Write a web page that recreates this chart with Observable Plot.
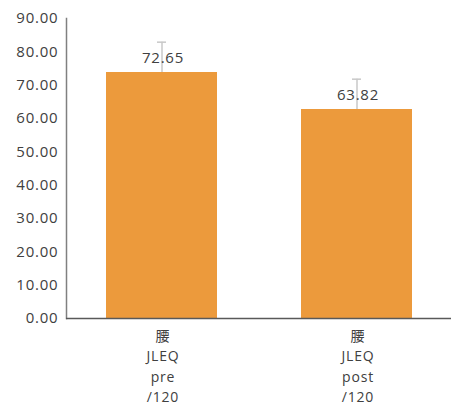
<!DOCTYPE html>
<html>
<head>
<meta charset="utf-8">
<script src="https://cdn.jsdelivr.net/npm/d3@7"></script>
<script src="https://cdn.jsdelivr.net/npm/@observablehq/plot@0.6"></script>
<style>
  html, body { margin: 0; padding: 0; background: #fff; }
  #chart svg { display: block; }
  #chart svg text { letter-spacing: 0.8px; }
</style>
</head>
<body>
<div id="chart"></div>
<script>
const categories = ["腰\nJLEQ\npre\n/120", "腰\nJLEQ\npost\n/120"];
const barValues = [73.8, 62.7];
const valueLabels = ["72.65", "63.82"];
const errorTops = [82.9, 71.8];
const yTicks = [0, 10, 20, 30, 40, 50, 60, 70, 80, 90];

const data = categories.map((c, i) => ({
  cat: c, value: barValues[i], label: valueLabels[i], err: errorTops[i]
}));

const font = "'Open Sans', 'Noto Sans CJK JP', sans-serif";
const textColor = "#404040";

const chart = Plot.plot({
  width: 451,
  height: 414,
  marginLeft: 66,
  marginRight: 0,
  marginTop: 18,
  marginBottom: 96,
  style: { fontFamily: font, fontSize: "15px", color: textColor, background: "#fff" },
  x: { domain: categories, paddingInner: 0.433, paddingOuter: 0.2, label: null },
  y: { domain: [0, 90], label: null },
  marks: [
    Plot.barY(data, { x: "cat", y: "value", fill: "#EC9A3C" }),
    Plot.ruleX(data, { x: "cat", y1: "value", y2: "err", stroke: "#C8C8C8", strokeWidth: 1.5 }),
    Plot.tickY(data, { x: "cat", y: "err", stroke: "#C8C8C8", strokeWidth: 1.5, insetLeft: 51, insetRight: 51 }),
    Plot.text(data, { x: "cat", y: "value", text: "label", dy: -14, dx: 1, fill: textColor, fontSize: 15 }),
    Plot.axisY({ ticks: yTicks, tickSize: 0, tickPadding: 8, tickFormat: d => d.toFixed(2), fontSize: 15, fill: textColor }),
    Plot.axisX({ tickSize: 0, tickPadding: 8, lineHeight: 1.45, fontSize: 14, dx: 1, fill: textColor, textAnchor: "middle" }),
    Plot.frame({ anchor: "left", stroke: "#808080", strokeWidth: 1.5 }),
    Plot.ruleY([0], { stroke: "#595959", strokeWidth: 1.5 })
  ]
});
document.getElementById("chart").appendChild(chart);
</script>
</body>
</html>
